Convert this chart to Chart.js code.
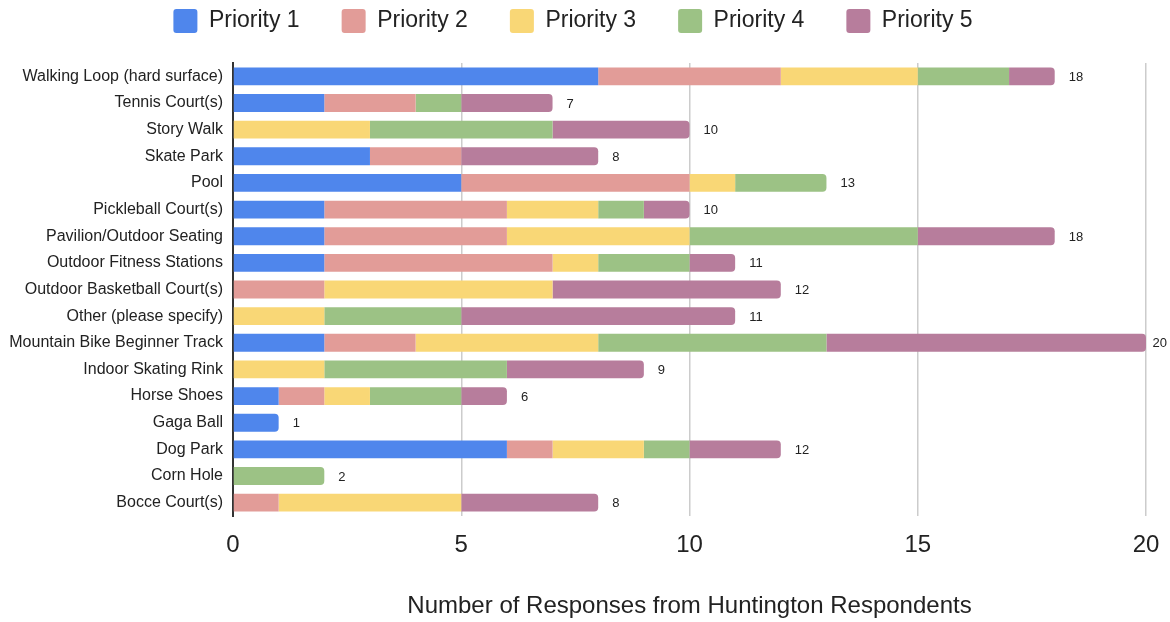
<!DOCTYPE html>
<html><head><meta charset="utf-8">
<script src="https://cdn.jsdelivr.net/npm/chart.js@4/dist/chart.umd.min.js"></script>
<style>html,body{margin:0;padding:0;background:#fff}#wrap{width:1170px;height:622px}</style>
</head><body><div id="wrap"><canvas id="c" width="1170" height="622"></canvas></div>
<script>
const categories = ["Walking Loop (hard surface)","Tennis Court(s)","Story Walk","Skate Park","Pool","Pickleball Court(s)","Pavilion/Outdoor Seating","Outdoor Fitness Stations","Outdoor Basketball Court(s)","Other (please specify)","Mountain Bike Beginner Track","Indoor Skating Rink","Horse Shoes","Gaga Ball","Dog Park","Corn Hole","Bocce Court(s)"];
const priority1 = [8,2,0,3,5,2,2,2,0,0,2,0,1,1,6,0,0];
const priority2 = [4,2,0,2,5,4,4,5,2,0,2,0,1,0,1,0,1];
const priority3 = [3,0,3,0,1,2,4,1,5,2,4,2,1,0,2,0,4];
const priority4 = [2,1,4,0,2,1,5,2,0,3,5,4,2,0,1,2,0];
const priority5 = [1,2,3,3,0,1,3,1,5,6,7,3,1,0,2,0,3];
const seriesNames = ["Priority 1","Priority 2","Priority 3","Priority 4","Priority 5"];
const xTicks = [0,5,10,15,20];

const series = [priority1,priority2,priority3,priority4,priority5];
const colors = ["#4f86ec","#e29c98","#f9d776","#9cc285","#b77d9c"];
const totals = categories.map((_,i)=>series.reduce((s,a)=>s+a[i],0));
const FONT = "'Liberation Sans', Arial, Helvetica, sans-serif";

function isLastNonZero(di, i){
  for(let k=di+1;k<series.length;k++) if(series[k][i]>0) return false;
  return true;
}

const totalsPlugin = {
  id:'totals',
  afterDatasetsDraw(chart){
    const {ctx} = chart;
    const xs = chart.scales.x, ys = chart.scales.y;
    ctx.save();
    ctx.font = "13px " + FONT;
    ctx.fillStyle = "#222";
    ctx.textBaseline = "middle";
    ctx.textAlign = "left";
    totals.forEach((t,i)=>{
      let x = xs.getPixelForValue(t) + 14;
      const w = ctx.measureText(String(t)).width;
      if (x + w > chart.width - 3) x = chart.width - 3 - w;
      const y = ys.getPixelForValue(i) + 1;
      ctx.fillText(String(t), x, y);
    });
    ctx.restore();
  }
};

new Chart(document.getElementById('c'), {
  type:'bar',
  data:{
    labels: categories,
    datasets: series.map((d,k)=>({
      label: seriesNames[k],
      data: d,
      backgroundColor: colors[k],
      borderWidth: 0,
      borderSkipped: 'start',
      borderRadius: ctx => (ctx.dataIndex!==undefined && isLastNonZero(k, ctx.dataIndex)) ? 4 : 0,
      barPercentage: 1,
      categoryPercentage: 0.67
    }))
  },
  options:{
    indexAxis:'y',
    responsive:false,
    animation:false,
    layout:{padding:{left:0,right:24,top:-33,bottom:0}},
    plugins:{
      tooltip:{enabled:false},
      title:{display:true,text:'',position:'top',weight:500,font:{size:10},padding:{top:8,bottom:0}},
      legend:{
        position:'top',
        maxHeight:95,
        labels:{
          font:{family:FONT,size:23},
          color:'#222',
          boxWidth:24,
          boxHeight:24,
          padding:42,
          useBorderRadius:true,
          borderRadius:3
        }
      }
    },
    scales:{
      x:{
        stacked:true,
        min:0,max:20,
        afterBuildTicks: s => { s.ticks = xTicks.map(v=>({value:v})); },
        ticks:{font:{family:FONT,size:24},color:'#222',padding:15},
        grid:{color:'#cccccc',lineWidth:1.5,drawTicks:false},
        border:{display:false},
        title:{display:true,text:'Number of Responses from Huntington Respondents',font:{family:FONT,size:24},color:'#222',padding:{top:20,bottom:1}},
        afterFit: s => { s.height = 106; s.paddingRight = 24; s.paddingLeft = 0; }
      },
      y:{
        stacked:true,
        ticks:{font:{family:FONT,size:16},color:'#222',padding:10,autoSkip:false},
        grid:{display:false,drawTicks:false},
        border:{display:true,color:'#333',width:2},
        afterFit: s => { s.width = 233; }
      }
    }
  },
  plugins:[totalsPlugin]
});
</script>
</body></html>
